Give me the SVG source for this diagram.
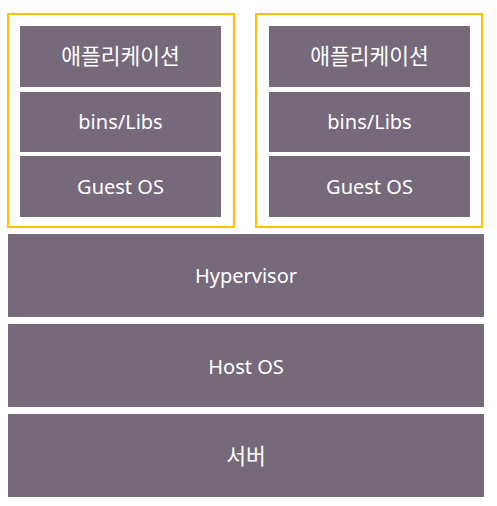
<svg xmlns="http://www.w3.org/2000/svg" width="497" height="506" viewBox="0 0 497 506">
<style>
.b{fill:#76697A}
.c{fill:none;stroke:#FFC000;stroke-width:2}
.t{fill:#FFFFFF;font-family:"Noto Sans","Noto Sans CJK KR",sans-serif;font-size:20px;text-anchor:middle}
.k{font-size:21.5px}
</style>
<rect width="497" height="506" fill="#FFFFFF"/>
<g id="vm1">
<rect class="c" x="8" y="14" width="226" height="213"/>
<g id="vm1-app"><rect class="b" x="20" y="26" width="201" height="61"/><text class="t k" x="120.5" y="64">애플리케이션</text></g>
<g id="vm1-bins"><rect class="b" x="20" y="92" width="201" height="60"/><text class="t" x="120.5" y="129">bins/Libs</text></g>
<g id="vm1-os"><rect class="b" x="20" y="156" width="201" height="61"/><text class="t" x="120.5" y="194">Guest OS</text></g>
</g>
<g id="vm2">
<rect class="c" x="256" y="14" width="226" height="213"/>
<g id="vm2-app"><rect class="b" x="269" y="26" width="201" height="61"/><text class="t k" x="369.5" y="64">애플리케이션</text></g>
<g id="vm2-bins"><rect class="b" x="269" y="92" width="201" height="60"/><text class="t" x="369.5" y="129">bins/Libs</text></g>
<g id="vm2-os"><rect class="b" x="269" y="156" width="201" height="61"/><text class="t" x="369.5" y="194">Guest OS</text></g>
</g>
<g id="hypervisor"><rect class="b" x="8" y="234" width="476" height="83"/><text class="t" x="246" y="283">Hypervisor</text></g>
<g id="hostos"><rect class="b" x="8" y="324" width="476" height="83"/><text class="t" x="246" y="374">Host OS</text></g>
<g id="server"><rect class="b" x="8" y="414" width="476" height="83"/><text class="t k" x="246" y="464">서버</text></g>
<g id="connectors"/>
</svg>
